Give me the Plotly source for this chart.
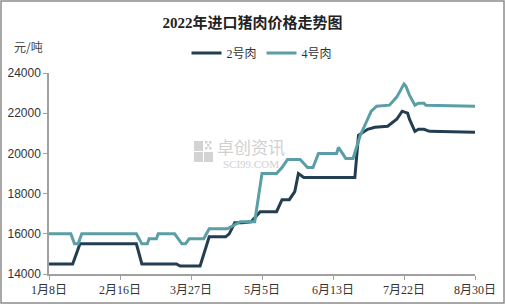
import plotly.graph_objects as go
import pandas as pd

# Data (dates of change points and values, 元/吨)
dates_2 = ["2022-01-08", "2022-01-21", "2022-01-23", "2022-01-25", "2022-02-25", "2022-02-28",
           "2022-03-19", "2022-03-21", "2022-04-01", "2022-04-05", "2022-04-06", "2022-04-15",
           "2022-04-17", "2022-04-20", "2022-04-24", "2022-04-29", "2022-05-04", "2022-05-13",
           "2022-05-16", "2022-05-20", "2022-05-23", "2022-05-25", "2022-05-28", "2022-06-25",
           "2022-06-27", "2022-07-02", "2022-07-06", "2022-07-13", "2022-07-18", "2022-07-21",
           "2022-07-24", "2022-07-25", "2022-07-28", "2022-07-30", "2022-08-02", "2022-08-05",
           "2022-08-30"]
price_2 = [14500, 14500, 15000, 15500, 15500, 14500,
           14500, 14400, 14400, 15500, 15850, 15850,
           16000, 16550, 16550, 16600, 17100, 17100,
           17700, 17700, 18100, 19000, 18800, 18800,
           20900, 21200, 21300, 21350, 21700, 22100,
           22000, 21700, 21100, 21200, 21200, 21100,
           21050]

dates_4 = ["2022-01-08", "2022-01-20", "2022-01-22", "2022-01-24", "2022-01-26", "2022-02-25",
           "2022-02-28", "2022-03-03", "2022-03-04", "2022-03-08", "2022-03-09", "2022-03-18",
           "2022-03-22", "2022-03-24", "2022-03-26", "2022-04-03", "2022-04-06", "2022-04-16",
           "2022-04-19", "2022-04-23", "2022-05-01", "2022-05-05", "2022-05-13", "2022-05-16",
           "2022-05-19", "2022-05-26", "2022-05-30", "2022-06-02", "2022-06-05", "2022-06-15",
           "2022-06-16", "2022-06-20", "2022-06-24", "2022-06-28", "2022-07-01", "2022-07-04",
           "2022-07-07", "2022-07-14", "2022-07-18", "2022-07-22", "2022-07-23", "2022-07-25",
           "2022-07-28", "2022-07-30", "2022-08-02", "2022-08-03", "2022-08-30"]
price_4 = [16000, 16000, 15500, 15500, 16000, 16000,
           15500, 15500, 15750, 15750, 16000, 16000,
           15500, 15500, 15750, 15750, 16250, 16250,
           16400, 16600, 16600, 19000, 19000, 19300,
           19700, 19700, 19300, 19300, 20000, 20000,
           20300, 19750, 19750, 20900, 21500, 22100,
           22350, 22400, 22800, 23450, 23350, 22900,
           22400, 22500, 22500, 22400, 22350]

tick_dates = ["2022-01-08", "2022-02-16", "2022-03-27", "2022-05-05", "2022-06-13", "2022-07-22", "2022-08-30"]
tick_labels = ["1月8日", "2月16日", "3月27日", "5月5日", "6月13日", "7月22日", "8月30日"]
y_ticks = [14000, 16000, 18000, 20000, 22000, 24000]

font_cjk = "Noto Sans CJK SC"
font_txt = "Liberation Serif, Noto Sans CJK SC"

fig = go.Figure()
fig.add_trace(go.Scatter(x=pd.to_datetime(dates_2), y=price_2, mode="lines", name="2号肉",
                         line=dict(color="#233E50", width=3)))
fig.add_trace(go.Scatter(x=pd.to_datetime(dates_4), y=price_4, mode="lines", name="4号肉",
                         line=dict(color="#5A9EA6", width=3)))

L, R, T, B = 49, 30, 73, 30
W, H = 505, 304
pw, ph = W - L - R, H - T - B

def px_x(p):
    return (p - L) / pw

def px_y(p):
    return (H - B - p) / ph

fig.update_layout(
    width=W, height=H,
    margin=dict(l=L, r=R, t=T, b=B, autoexpand=False),
    paper_bgcolor="white", plot_bgcolor="white",
    title=dict(text="<b>2022年进口猪肉价格走势图</b>", x=0.5, xanchor="center", y=1 - 23 / H, yanchor="middle",
               font=dict(family=font_txt, size=15, color="#222")),
    legend=dict(orientation="h", x=0.5, xanchor="center", y=px_y(53), yanchor="middle",
                font=dict(family=font_txt, size=12, color="#333"), itemwidth=30,
                bgcolor="rgba(0,0,0,0)"),
    showlegend=True,
    xaxis=dict(type="date", range=["2022-01-08", "2022-08-30"], tickvals=pd.to_datetime(tick_dates),
               ticktext=tick_labels, showgrid=False, zeroline=False, showline=True, linecolor="#A0A0A0",
               linewidth=1.5, ticks="outside", ticklen=4, tickcolor="#A0A0A0", automargin=False,
               tickfont=dict(family=font_txt, size=12, color="#333")),
    yaxis=dict(range=[14000, 24000], tickvals=y_ticks, ticktext=[str(v) for v in y_ticks],
               showgrid=False, zeroline=False, showline=True, automargin=False,
               linecolor="#A0A0A0", linewidth=1.5, ticks="outside", ticklen=4, tickcolor="#A0A0A0",
               tickfont=dict(family="Liberation Sans", size=12, color="#333")),
)

# unit label
fig.add_annotation(text="元/吨", xref="paper", yref="paper", x=px_x(12), y=px_y(47), xanchor="left",
                   yanchor="middle", showarrow=False, font=dict(family=font_cjk, size=12, color="#444"))

# watermark
fig.add_annotation(text="卓创资讯", xref="paper", yref="paper", x=px_x(215), y=px_y(146), xanchor="left",
                   yanchor="middle", showarrow=False, font=dict(family=font_cjk, size=17, color="#D0D0D0"))
fig.add_annotation(text="SCI99.COM", xref="paper", yref="paper", x=px_x(221), y=px_y(164), xanchor="left",
                   yanchor="middle", showarrow=False, font=dict(family="Liberation Serif", size=11, color="#D0D0D0"))
for (a, b) in [(194, 141), (194, 152), (204, 152)]:
    fig.add_shape(type="rect", xref="paper", yref="paper", x0=px_x(a), x1=px_x(a + 9),
                  y0=px_y(b + 10), y1=px_y(b), fillcolor="#D3D3D3", line=dict(width=0), layer="below")
for (a, b) in [(205, 141), (209, 141), (207, 144), (205, 147), (209, 147)]:
    fig.add_shape(type="rect", xref="paper", yref="paper", x0=px_x(a), x1=px_x(a + 2.5),
                  y0=px_y(b + 2.5), y1=px_y(b), fillcolor="#D3D3D3", line=dict(width=0), layer="below")

# outer border
fig.add_shape(type="rect", xref="paper", yref="paper", x0=px_x(1), x1=px_x(W - 1), y0=px_y(H - 1), y1=px_y(1),
              line=dict(color="#8C8C8C", width=1.5), fillcolor="rgba(0,0,0,0)")

fig.write_html("out.html")
